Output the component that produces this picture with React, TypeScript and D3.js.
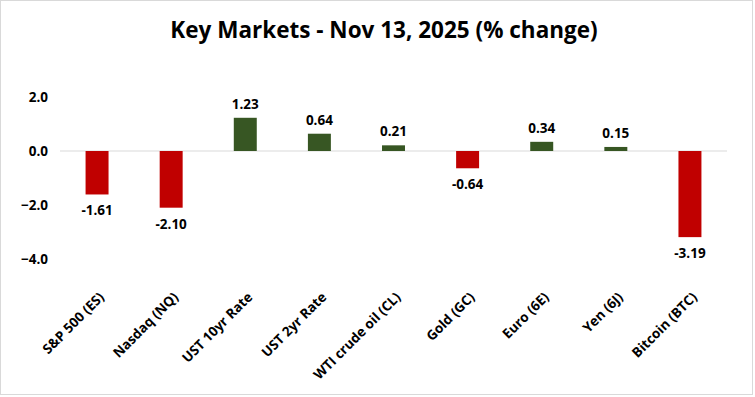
import React, { useEffect, useRef } from 'react';
import * as d3 from 'd3';

const WIDTH = 755;
const HEIGHT = 397;

const categories = [
  'S&P 500 (ES)',
  'Nasdaq (NQ)',
  'UST 10yr Rate',
  'UST 2yr Rate',
  'WTI crude oil (CL)',
  'Gold (GC)',
  'Euro (6E)',
  'Yen (6J)',
  'Bitcoin (BTC)',
];
const changes = [-1.61, -2.1, 1.23, 0.64, 0.21, -0.64, 0.34, 0.15, -3.19];
const yTicks = [2, 0, -2, -4];

const margin = { l: 60, r: 28, t: 97, b: 138 };
const FONT = "'Open Sans', 'Liberation Sans', sans-serif";

const App = () => {
  const $yaxis = useRef<SVGGElement>(null);
  const $xaxis = useRef<SVGGElement>(null);

  const w = WIDTH - margin.l - margin.r;
  const x = d3
    .scaleBand<string>()
    .domain(categories)
    .range([margin.l, margin.l + w])
    .paddingInner(0.69)
    .paddingOuter(0.345);
  const y = d3.scaleLinear().domain([-4, 2]).range([259, 97]);

  useEffect(() => {
    const ya = d3
      .select($yaxis.current)
      .call(d3.axisLeft(y).tickValues(yTicks).tickFormat(d3.format('.1f')).tickSize(0).tickPadding(12) as any);
    ya.select('.domain').remove();
    ya.selectAll('text')
      .attr('font-family', FONT)
      .attr('font-size', 13.5)
      .attr('font-weight', 700)
      .attr('fill', '#000');

    const xa = d3.select($xaxis.current).call(d3.axisBottom(x).tickSize(0) as any);
    xa.select('.domain').remove();
    xa.selectAll('text')
      .attr('font-family', FONT)
      .attr('font-size', 13.5)
      .attr('font-weight', 700)
      .attr('fill', '#000')
      .attr('text-anchor', 'end')
      .attr('dy', 0)
      .attr('y', 0)
      .attr('transform', 'translate(8,0) rotate(-45)');
  }, []);

  return (
    <svg
      width={WIDTH}
      height={HEIGHT}
      style={{ position: 'absolute', left: 0, top: 0, background: '#fff' }}
    >
      <rect x={0.5} y={0.5} width={752} height={394} fill="#fff" stroke="#d9d9d9" />
      <text
        x={384}
        y={38}
        textAnchor="middle"
        fontFamily={FONT}
        fontWeight={700}
        fontSize={22.5}
        fill="#000"
      >
        Key Markets - Nov 13, 2025 (% change)
      </text>
      <g ref={$yaxis} transform={`translate(${margin.l},0)`} />
      <line x1={margin.l} x2={margin.l + w} y1={y(0)} y2={y(0)} stroke="#d9d9d9" />
      {categories.map((c, i) => {
        const v = changes[i];
        const bx = x(c) as number;
        const top = y(Math.max(0, v));
        const bot = y(Math.min(0, v));
        return (
          <g key={c}>
            <rect
              x={bx}
              y={top}
              width={x.bandwidth()}
              height={bot - top}
              fill={v >= 0 ? '#375623' : '#c00000'}
            />
            <text
              x={bx + x.bandwidth() / 2}
              y={v >= 0 ? top - 9 : bot + 21}
              textAnchor="middle"
              fontFamily={FONT}
              fontWeight={700}
              fontSize={13.5}
              fill="#000"
            >
              {v.toFixed(2)}
            </text>
          </g>
        );
      })}
      <g ref={$xaxis} transform="translate(0,298)" />
    </svg>
  );
};

export default App;
